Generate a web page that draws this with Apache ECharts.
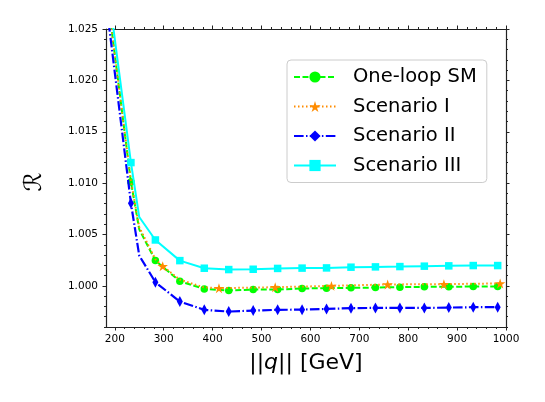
<!DOCTYPE html>
<html>
<head>
<meta charset="utf-8">
<script src="https://cdn.jsdelivr.net/npm/echarts@6/dist/echarts.min.js"></script>
<style>
html,body{margin:0;padding:0;background:#fff;}
#chart{width:545px;height:402px;}
</style>
</head>
<body>
<div id="chart"></div>
<script>
// ---- data ----
const seriesNames = ['One-loop SM', 'Scenario I', 'Scenario II', 'Scenario III'];
const xMajorTicks = [200, 300, 400, 500, 600, 700, 800, 900, 1000];
const yMajorTicks = [1.000, 1.005, 1.010, 1.015, 1.020, 1.025];

// vertices shared by SM / Scenario II / Scenario III curves
const qVertices = [183.3, 233, 250, 283, 333, 383, 433, 483, 533, 583, 633, 683, 733, 783, 833, 883, 933, 983];
const qMarkers = [233, 283, 333, 383, 433, 483, 533, 583, 633, 683, 733, 783, 833, 883, 933, 983];

const smValues = [1.0288, 1.0101, 1.0055, 1.00246, 1.00045, 0.99971, 0.99955, 0.99964, 0.99964, 0.99975, 0.99978, 0.99981, 0.99984, 0.99988, 0.99991, 0.99991, 0.99994, 0.99994];
const s2Values = [1.0272, 1.00804, 1.00295, 1.00036, 0.99847, 0.99767, 0.99750, 0.99760, 0.99767, 0.99769, 0.99776, 0.99783, 0.99786, 0.99786, 0.99786, 0.99789, 0.99793, 0.99793];
const s3Values = [1.0301, 1.0120, 1.0067, 1.00447, 1.00246, 1.00172, 1.00159, 1.00162, 1.00170, 1.00173, 1.00175, 1.00182, 1.00185, 1.00188, 1.00192, 1.00195, 1.00198, 1.00198];

// Scenario I has its own vertices and star markers
const s1Vertices = [183.3, 233, 250, 283, 298, 333, 383, 413, 528, 643, 758, 873, 988];
const s1Values = [1.0289, 1.0102, 1.0057, 1.0026, 1.00192, 1.0006, 0.99985, 0.99978, 0.99987, 1.0000, 1.00014, 1.00017, 1.00024];
const s1Markers = [298, 413, 528, 643, 758, 873, 988];

// ---- build ----
function buildData(xs, ys, marks) {
  return xs.map((x, i) => marks.indexOf(x) >= 0 ? {value: [x, ys[i]]} : {value: [x, ys[i]], symbol: 'none'});
}
const xMin = 182, xMax = 1000, yMin = 0.996, yMax = 1.025;
const xMinor = [];
for (let v = 200; v <= 1000; v += 20) if (v % 100 !== 0) xMinor.push(v);
const yMinor = [];
for (let k = 996; k <= 1025; k++) if (k % 5 !== 0) yMinor.push(k / 1000);

const FONT = 'DejaVu Sans';
const spine = {show: true, lineStyle: {color: '#222', width: 1.2}};

function xAx(pos, vals, len, withLabel, withLine) {
  return {
    type: 'value', position: pos, min: xMin, max: xMax,
    axisLine: withLine ? spine : {show: false},
    axisTick: {show: true, inside: false, length: len, customValues: vals, lineStyle: {color: '#222', width: 1}},
    axisLabel: withLabel ? {show: true, customValues: vals, margin: 7, fontFamily: FONT, fontSize: 10.5, color: '#000',
      formatter: v => String(Math.round(v))} : {show: false},
    splitLine: {show: false}
  };
}
function yAx(pos, vals, len, withLabel, withLine) {
  return {
    type: 'value', position: pos, min: yMin, max: yMax,
    axisLine: withLine ? spine : {show: false},
    axisTick: {show: true, inside: false, length: len, customValues: vals, lineStyle: {color: '#222', width: 1}},
    axisLabel: withLabel ? {show: true, customValues: vals, margin: 8, fontFamily: FONT, fontSize: 10.5, color: '#000',
      formatter: v => Number(v).toFixed(3)} : {show: false},
    splitLine: {show: false}
  };
}

const starPath = 'path://M50,0 L61,35 L98,35 L68,57 L79,91 L50,70 L21,91 L32,57 L2,35 L39,35 Z';

const chart = echarts.init(document.getElementById('chart'), null, {renderer: 'canvas'});
chart.setOption({
  animation: false,
  backgroundColor: '#fff',
  grid: {left: 106, right: 39, top: 29, bottom: 75},
  xAxis: [
    xAx('bottom', xMajorTicks, 3.5, true, true),
    xAx('bottom', xMinor, 2, false, false),
    xAx('top', xMajorTicks, 3.5, false, true),
    xAx('top', xMinor, 2, false, false)
  ],
  yAxis: [
    yAx('left', yMajorTicks, 3.5, true, true),
    yAx('left', yMinor, 2, false, false),
    yAx('right', yMajorTicks, 3.5, false, true),
    yAx('right', yMinor, 2, false, false)
  ],
  legend: {
    orient: 'vertical', left: 287, top: 60,
    itemWidth: 42, itemHeight: 14, itemGap: 7.5,
    padding: [6, 10, 6, 6],
    backgroundColor: 'rgba(255,255,255,0.8)', borderColor: '#cccccc', borderWidth: 1, borderRadius: 4,
    textStyle: {fontFamily: FONT, fontSize: 19.5, color: '#000', lineHeight: 22, padding: [0, 0, 0, 12]},
    data: seriesNames
  },
  series: [
    {
      type: 'line', name: seriesNames[0], data: buildData(qVertices, smValues, qMarkers),
      symbol: 'circle', symbolSize: 7.5, showAllSymbol: true,
      lineStyle: {color: '#00ff00', width: 2, type: [6, 2.5]}, itemStyle: {color: '#00ff00'}, z: 2
    },
    {
      type: 'line', name: seriesNames[1], data: buildData(s1Vertices, s1Values, s1Markers),
      symbol: starPath, symbolSize: 10.5, symbolKeepAspect: true, showAllSymbol: true,
      lineStyle: {color: '#ff8c00', width: 2, type: [1.5, 2.5]}, itemStyle: {color: '#ff8c00'}, z: 3
    },
    {
      type: 'line', name: seriesNames[2], data: buildData(qVertices, s2Values, qMarkers),
      symbol: 'diamond', symbolSize: [6, 11], showAllSymbol: true,
      lineStyle: {color: '#0000ff', width: 2.2, type: [9.6, 2.4, 1.5, 2.4]}, itemStyle: {color: '#0000ff'}, z: 4
    },
    {
      type: 'line', name: seriesNames[3], data: buildData(qVertices, s3Values, qMarkers),
      symbol: 'rect', symbolSize: 7.5, showAllSymbol: true,
      lineStyle: {color: '#00ffff', width: 2, type: 'solid'}, itemStyle: {color: '#00ffff'}, z: 5
    }
  ],
  graphic: [
    {
      type: 'text', z: 10,
      x: 306, y: 363,
      style: {
        text: '||{i|q}|| [GeV]', align: 'center', verticalAlign: 'middle',
        fontFamily: FONT, fontSize: 22, fill: '#000',
        rich: {i: {fontStyle: 'italic', fontFamily: FONT, fontSize: 22}}
      }
    },
    {
      type: 'text', z: 10,
      x: 35, y: 182,
      rotation: Math.PI / 2,
      style: {
        text: '\u211B', align: 'center', verticalAlign: 'middle',
        fontFamily: 'DejaVu Sans', fontSize: 24, fill: '#000'
      }
    }
  ]
});
</script>
</body>
</html>
